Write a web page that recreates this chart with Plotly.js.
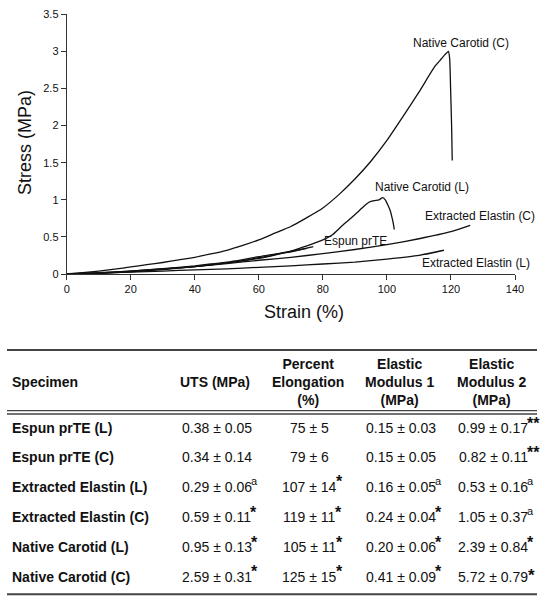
<!DOCTYPE html>
<html>
<head>
<meta charset="utf-8">
<script src="https://cdn.plot.ly/plotly-3.0.1.min.js"></script>
<style>html,body{margin:0;padding:0;background:#fff;}#chart{width:555px;height:600px;}</style>
</head>
<body>
<div id="chart"></div>
<script>
// ---- Curve data (strain %, stress MPa) ----
const ncC_strain = [0,5,10,15,20,25,30,35,40,45,50,55,60,65,70,75,80,85,90,95,100,105,110,115,116.6,118.2,119.2,119.6,119.9,120.2,120.4];
const ncC_stress = [0,0.018,0.04,0.066,0.095,0.125,0.155,0.19,0.225,0.27,0.32,0.385,0.46,0.55,0.64,0.76,0.89,1.07,1.28,1.52,1.8,2.12,2.45,2.8,2.88,2.96,3.0,2.9,2.48,2.0,1.53];

const ncL_strain = [0,10,20,30,40,50,60,65,70,75,80,83,86,89,91,93,94.5,96,97.5,98.7,99.5,100.3,101,101.6,102,102.3];
const ncL_stress = [0,0.01,0.03,0.06,0.1,0.15,0.21,0.255,0.31,0.38,0.46,0.53,0.65,0.76,0.84,0.92,0.97,0.99,1.0,1.03,1.0,0.93,0.86,0.76,0.68,0.6];

const espL_strain = [0,10,20,30,40,45,50,55,60,63,66,69,72,75,77];
const espL_stress = [0,0.012,0.035,0.065,0.1,0.125,0.15,0.18,0.22,0.24,0.27,0.29,0.32,0.35,0.37];
const espC_strain = [0,10,20,30,40,45,50,55,60,64,68,72,75];
const espC_stress = [0,0.014,0.04,0.072,0.11,0.135,0.16,0.195,0.235,0.26,0.29,0.32,0.345];

const eeC_strain = [0,10,20,30,40,50,60,70,80,90,100,110,120,126];
const eeC_stress = [0,0.018,0.04,0.068,0.1,0.14,0.185,0.225,0.275,0.33,0.395,0.475,0.57,0.655];

const eeL_strain = [0,10,20,30,40,50,60,70,80,90,100,110,117.8];
const eeL_stress = [0,0.01,0.025,0.04,0.055,0.07,0.09,0.11,0.135,0.16,0.2,0.25,0.32];

const curveLabels = ["Native Carotid (C)","Native Carotid (L)","Extracted Elastin (C)","Espun prTE","Extracted Elastin (L)"];
const labelX = [123.1, 111.0, 129.1, 90.3, 127.8];
const labelY = [3.11, 1.17, 0.786, 0.449, 0.152];

// ---- Table data ----
const tableHeaders = ["Specimen","UTS (MPa)","Percent<br>Elongation<br>(%)","Elastic<br>Modulus 1<br>(MPa)","Elastic<br>Modulus 2<br>(MPa)"];
const specimens = ["Espun prTE (L)","Espun prTE (C)","Extracted Elastin (L)","Extracted Elastin (C)","Native Carotid (L)","Native Carotid (C)"];
const uts = ["0.38 ± 0.05","0.34 ± 0.14","0.29 ± 0.06","0.59 ± 0.11","0.95 ± 0.13","2.59 ± 0.31"];
const utsMark = ["","","a","*","*","*"];
const elong = ["75 ± 5","79 ± 6","107 ± 14","119 ± 11","105 ± 11","125 ± 15"];
const elongMark = ["","","*","*","*","*"];
const mod1 = ["0.15 ± 0.03","0.15 ± 0.05","0.16 ± 0.05","0.24 ± 0.04","0.20 ± 0.06","0.41 ± 0.09"];
const mod1Mark = ["","","a","*","*","*"];
const mod2 = ["0.99 ± 0.17","0.82 ± 0.11","0.53 ± 0.16","1.05 ± 0.37","2.39 ± 0.84","5.72 ± 0.79"];
const mod2Mark = ["**","**","a","a","*","inline*"];

// ---- helpers ----
const W = 555, H = 600;
const FONT = "Liberation Sans, Arial, sans-serif";
const px = x => x / W;
const py = y => 1 - y / H;
const cv = document.createElement("canvas").getContext("2d");
cv.font = "14px 'Liberation Sans', Arial, sans-serif";
const tw = s => cv.measureText(s).width;

// mark style: [text, font size, bold, raise(px), gap(px)]
function markSpec(m) {
  if (m === "inline*") return {t: "<b>*</b>", s: 17, dy: 1, gap: 1};
  if (m === "a") return {t: "a", s: 11, dy: 6, gap: 0.5};
  return {t: "<b>" + m + "</b>", s: 16, dy: 5, gap: 0.5};
}

const lineStyle = {color: "#111", width: 1.3, shape: "spline", smoothing: 0.5};
const traces = [
  {x: ncC_strain, y: ncC_stress},
  {x: ncL_strain, y: ncL_stress},
  {x: espL_strain, y: espL_stress},
  {x: espC_strain, y: espC_stress},
  {x: eeC_strain, y: eeC_stress},
  {x: eeL_strain, y: eeL_stress}
].map(t => Object.assign(t, {type: "scatter", mode: "lines", line: lineStyle, hoverinfo: "skip"}));

const annotations = [];
// curve labels
curveLabels.forEach((t, i) => annotations.push({
  text: t, x: labelX[i], y: labelY[i], xref: "x", yref: "y", showarrow: false,
  font: {family: FONT, size: 12, color: "#111"}, xanchor: "center", yanchor: "middle"
}));
// axis titles
annotations.push({text: "Stress (MPa)", textangle: -90, x: px(25), y: py(143), xref: "paper", yref: "paper",
  showarrow: false, font: {family: FONT, size: 18, color: "#111"}, xanchor: "center", yanchor: "middle"});
annotations.push({text: "Strain (%)", x: px(304), y: py(312), xref: "paper", yref: "paper",
  showarrow: false, font: {family: FONT, size: 18, color: "#111"}, xanchor: "center", yanchor: "middle"});

// table header
const colCenters = [null, 214.5, 307.5, 399, 491];
const headerY = 381.7;
annotations.push({text: "<b>" + tableHeaders[0] + "</b>", x: px(10), y: py(headerY), xref: "paper", yref: "paper",
  showarrow: false, xanchor: "left", yanchor: "middle", font: {family: FONT, size: 14, color: "#111"}});
for (let c = 1; c < tableHeaders.length; c++) {
  annotations.push({text: "<b>" + tableHeaders[c] + "</b>", x: px(colCenters[c]), y: py(headerY), xref: "paper", yref: "paper",
    showarrow: false, xanchor: "center", yanchor: "middle", align: "center",
    font: {family: FONT, size: 14, color: "#111"}});
}
// table rows
const rowY = [428.3, 457.3, 486.7, 517.3, 547.3, 576.7];
const cols = [[uts, utsMark], [elong, elongMark], [mod1, mod1Mark], [mod2, mod2Mark]];
specimens.forEach((s, r) => {
  annotations.push({text: "<b>" + s + "</b>", x: px(10), y: py(rowY[r]), xref: "paper", yref: "paper",
    showarrow: false, xanchor: "left", yanchor: "middle", font: {family: FONT, size: 14, color: "#111"}});
  cols.forEach((col, c) => {
    const txt = col[0][r];
    const w = tw(txt);
    const left = colCenters[c + 1] - w / 2;
    annotations.push({text: txt, x: px(left), y: py(rowY[r]), xref: "paper", yref: "paper",
      showarrow: false, xanchor: "left", yanchor: "middle", font: {family: FONT, size: 14, color: "#111"}});
    const m = col[1][r];
    if (m) {
      const sp = markSpec(m);
      annotations.push({text: sp.t, x: px(left + w + sp.gap), y: py(rowY[r] - sp.dy), xref: "paper", yref: "paper",
        showarrow: false, xanchor: "left", yanchor: "middle", borderpad: 0,
        font: {family: FONT, size: sp.s, color: "#111"}});
    }
  });
});

const hline = (y, w) => ({type: "line", xref: "paper", yref: "paper", x0: px(7), x1: px(537), y0: py(y), y1: py(y),
  line: {color: "#444", width: w}});
const shapes = [hline(350, 2), hline(410.7, 1.3), hline(414, 1.3), hline(594.3, 2)];

const layout = {
  width: W, height: H,
  margin: {l: 0, r: 0, t: 0, b: 0},
  paper_bgcolor: "#fff", plot_bgcolor: "#fff",
  showlegend: false,
  font: {family: FONT, color: "#111"},
  xaxis: {domain: [px(66.7), px(515)], range: [0, 140], dtick: 20, tick0: 0,
    ticks: "outside", ticklen: 5, tickcolor: "#333", showline: true, linecolor: "#333", linewidth: 1,
    zeroline: false, showgrid: false, tickfont: {family: FONT, size: 11, color: "#111"}, fixedrange: true},
  yaxis: {domain: [py(274), py(14.3)], range: [0, 3.5], dtick: 0.5, tick0: 0,
    ticks: "outside", ticklen: 5, tickcolor: "#333", showline: true, linecolor: "#333", linewidth: 1,
    zeroline: false, showgrid: false, tickfont: {family: FONT, size: 11, color: "#111"}, fixedrange: true},
  annotations: annotations,
  shapes: shapes
};

Plotly.newPlot("chart", traces, layout, {staticPlot: true, displayModeBar: false});
</script>
</body>
</html>
